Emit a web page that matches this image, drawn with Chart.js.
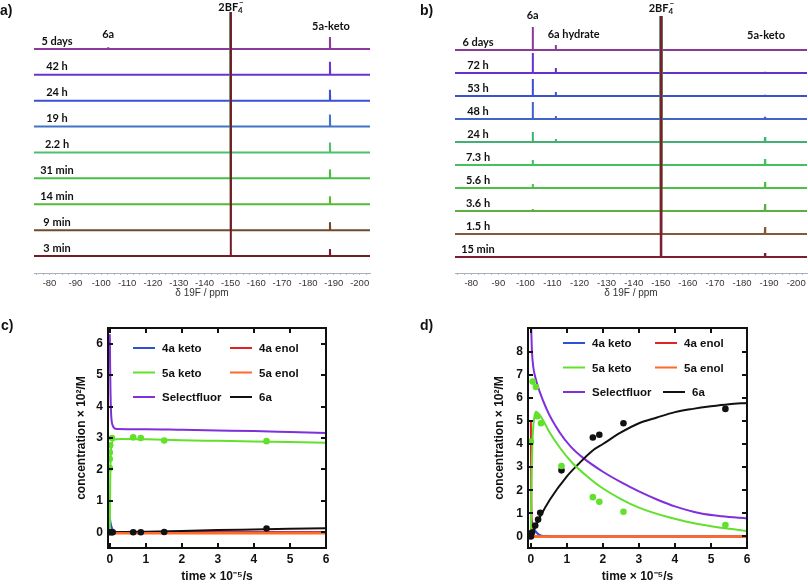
<!DOCTYPE html>
<html>
<head>
<meta charset="utf-8">
<script src="https://cdn.jsdelivr.net/npm/chart.js@4.4.0/dist/chart.umd.min.js"></script>
<style>
  html, body { margin: 0; padding: 0; background: #fff; }
  #wrap { position: relative; width: 808px; height: 584px; overflow: hidden; }
  canvas { position: absolute; }
  .tag { position: absolute; font: bold 14px "Liberation Sans", Arial, sans-serif; color: #111; }
</style>
</head>
<body>
<div id="wrap">
  <canvas id="chartA" width="404" height="300" style="left:0;top:0"></canvas>
  <canvas id="chartB" width="404" height="300" style="left:404px;top:0"></canvas>
  <canvas id="chartC" width="404" height="284" style="left:0;top:300px"></canvas>
  <canvas id="chartD" width="404" height="284" style="left:404px;top:300px"></canvas>
  <div class="tag" style="left:0;top:2px">a)</div>
  <div class="tag" style="left:420px;top:2px">b)</div>
  <div class="tag" style="left:1px;top:317px">c)</div>
  <div class="tag" style="left:420px;top:317px">d)</div>
</div>
<script>
// ---- panel a: 19F NMR, spectra listed bottom to top ----
const aTimes = ['3 min', '9 min', '14 min', '31 min', '2.2 h', '19 h', '24 h', '42 h', '5 days'];
const aColors = ['#741a28', '#6e4b2b', '#55bb35', '#44c044', '#4dbf6e', '#3f74c6', '#3b50d2', '#6636d0', '#8c3a9c'];
const aKeto = [7, 8, 8, 9, 10, 12, 11, 13, 12];
const aSixA = [0, 0, 0, 0, 0, 0, 0, 0, 1.5];

// ---- panel b ----
const bTimes = ['15 min', '1.5 h', '3.6 h', '5.6 h', '7.3 h', '24 h', '48 h', '53 h', '72 h', '6 days'];
const bColors = ['#7a1e32', '#86583a', '#5cb040', '#4cbf48', '#44c060', '#42b070', '#4263c8', '#3a50d0', '#6430d0', '#8a3a9a'];
const bKeto = [4, 7, 7, 6, 6, 5, 2, 1, 1, 0];
const bSixA = [0, 0, 2, 4, 5, 10, 17, 17, 20, 23];
const bHydrate = [0, 0, 0, 0, 1, 3, 3, 4, 5, 5];

// chemical shifts (ppm) and axis labels
const shiftSixA = -102.7;
const shiftHydrate = -111.2;
const shiftBF4 = -150.1;
const shiftKeto = -188.5;
const bf4Height = 600; // counter-ion peak, off scale
const ppmTicks = [-80, -90, -100, -110, -120, -130, -140, -150, -160, -170, -180, -190, -200];

// ---- panel c: concentration x 10^2 / M vs time x 10^-5 / s ----
const c4aKeto = [[0, 0.45], [0.03, 0.25], [0.08, 0.08], [0.15, 0.02], [0.3, 0], [6, 0]];
const c4aEnol = [[0, 0], [6, 0]];
const c5aKeto = [[0, 0], [0.01, 1.5], [0.02, 2.3], [0.04, 2.7], [0.07, 2.88], [0.12, 2.95], [0.3, 2.97], [1, 2.96], [2, 2.93], [3, 2.91], [4, 2.89], [5, 2.87], [6, 2.85]];
const c5aEnol = [[0, 0], [0.1, -0.03], [6, -0.03]];
const cSelectfluor = [[0, 6.3], [0.01, 5.2], [0.02, 4.4], [0.035, 3.8], [0.05, 3.55], [0.08, 3.4], [0.12, 3.32], [0.2, 3.29], [1, 3.28], [2, 3.26], [3, 3.24], [4, 3.22], [5, 3.19], [6, 3.16]];
const c6a = [[0, 0], [1, 0.02], [2, 0.04], [3, 0.07], [4, 0.09], [5, 0.11], [6, 0.13]];
const c5aKetoObs = [[0, 2.04], [0, 2.33], [0, 2.54], [0.01, 2.77], [0.06, 3.0], [0.65, 3.02], [0.86, 3.0], [1.51, 2.92], [4.35, 2.9]];
const c6aObs = [[0, 0], [0.05, 0], [0.08, 0], [0.65, 0], [0.86, 0], [1.51, 0.01], [4.35, 0.12]];
const cXTicks = [0, 1, 2, 3, 4, 5, 6];
const cYTicks = [0, 1, 2, 3, 4, 5, 6];

// ---- panel d ----
const d4aKeto = [[0, 0.8], [0.05, 0.5], [0.1, 0.3], [0.2, 0.1], [0.35, 0.02], [0.6, 0], [6, 0]];
const d4aEnol = [[0, 5.0], [0.01, 2.0], [0.03, 0.3], [0.06, 0], [6, 0]];
const d5aKeto = [[0, 0], [0.02, 2.5], [0.05, 4.3], [0.09, 5.1], [0.14, 5.4], [0.22, 5.3], [0.35, 5.0], [0.5, 4.55], [0.8, 3.85], [1.14, 3.2], [1.5, 2.68], [1.93, 2.15], [2.5, 1.62], [3, 1.25], [3.78, 0.85], [4.5, 0.58], [5, 0.44], [5.5, 0.33], [6, 0.24]];
const d5aEnol = [[0, 0], [6, 0]];
const dSelectfluor = [[0, 9.5], [0.03, 8.0], [0.07, 7.3], [0.12, 6.9], [0.44, 5.5], [0.8, 4.5], [1.1, 3.9], [1.45, 3.4], [2, 2.8], [2.5, 2.35], [3, 1.95], [3.5, 1.6], [4, 1.3], [4.7, 1.0], [5.3, 0.87], [6, 0.78]];
const d6a = [[0, 0], [0.26, 0.86], [0.53, 1.6], [1, 2.6], [1.3, 3.1], [1.7, 3.7], [2, 4.0], [2.5, 4.5], [3, 4.9], [3.5, 5.15], [4, 5.38], [4.5, 5.52], [5, 5.63], [5.5, 5.72], [6, 5.78]];
const d5aKetoObs = [[0, 4.1], [0.05, 6.7], [0.14, 6.47], [0.18, 5.2], [0.28, 4.9], [0.85, 3.05], [1.72, 1.7], [1.9, 1.5], [2.57, 1.07], [5.4, 0.49]];
const d6aObs = [[0, 0], [0.03, 0.17], [0.12, 0.47], [0.2, 0.73], [0.26, 1.02], [0.85, 2.86], [1.72, 4.28], [1.9, 4.4], [2.57, 4.9], [5.4, 5.52]];
const dXTicks = [0, 1, 2, 3, 4, 5, 6];
const dYTicks = [0, 1, 2, 3, 4, 5, 6, 7, 8];

const seriesNames = ['4a keto', '4a enol', '5a keto', '5a enol', 'Selectfluor', '6a'];
const seriesColors = ['#2f4fd8', '#e02424', '#62e02c', '#ff6a2a', '#7f2fdc', '#111111'];

Chart.defaults.font.family = '"Liberation Sans", Arial, sans-serif';
Chart.defaults.color = '#111';

const ppmLeft = -74, ppmRight = -204;

function spectrum(offset, peaks) {
  const pts = [{x: ppmLeft, y: offset}];
  peaks.filter(p => p[1] > 0).sort((a, b) => b[0] - a[0]).forEach(([ppm, h]) => {
    pts.push({x: ppm + 0.1, y: offset}, {x: ppm, y: offset + h}, {x: ppm - 0.1, y: offset});
  });
  pts.push({x: ppmRight, y: offset});
  return pts;
}

function drawBF4(ctx, x, y) {
  ctx.font = 'bold 11px Lato, sans-serif';
  const w = ctx.measureText('2BF').width;
  ctx.textAlign = 'left';
  const x0 = x - (w + 5) / 2;
  ctx.fillText('2BF', x0, y);
  ctx.font = 'bold 8px Lato, sans-serif';
  ctx.fillText('4', x0 + w, y + 3);
  ctx.fillText('\u2212', x0 + w + 1, y - 5);
  ctx.textAlign = 'center';
}

const spectraLabels = {
  id: 'spectraLabels',
  afterDatasetsDraw(chart, args, opts) {
    const {ctx, chartArea, scales: {x, y}} = chart;
    ctx.save();
    ctx.fillStyle = '#111';
    ctx.textAlign = 'center';
    ctx.textBaseline = 'middle';
    ctx.font = 'bold 11px Lato, sans-serif';
    opts.times.forEach((t, i) => {
      ctx.fillText(t, chartArea.left + 23, y.getPixelForValue(i * opts.step) - 8);
    });
    const topBase = y.getPixelForValue((opts.times.length - 1) * opts.step);
    opts.peaks.forEach(p => {
      const px = x.getPixelForValue(p.ppm) + (p.dx || 0);
      const py = topBase - p.dy;
      if (p.text === 'BF4') {
        drawBF4(ctx, px, py);
      } else {
        ctx.font = 'bold 11px Lato, sans-serif';
        ctx.fillText(p.text, px, py);
      }
    });
    ctx.restore();
  }
};

function spectraChart(id, times, colors, peakSets, step, yMin, yMax, pad, peakLabels) {
  const datasets = times.map((t, i) => ({
    label: t,
    data: spectrum(i * step, peakSets[i]),
    borderColor: colors[i],
    borderWidth: 2,
    borderJoinStyle: 'bevel',
    pointRadius: 0,
    tension: 0
  }));
  new Chart(document.getElementById(id), {
    type: 'line',
    data: {datasets},
    options: {
      responsive: false,
      animation: false,
      layout: {padding: pad},
      plugins: {
        legend: {display: false},
        tooltip: {enabled: false},
        spectraLabels: {times, step, peaks: peakLabels}
      },
      scales: {
        x: {
          type: 'linear',
          min: ppmRight,
          max: ppmLeft,
          reverse: true,
          afterFit: s => { s.height = 26; },
          afterBuildTicks: s => {
            const ticks = [];
            for (let v = -202.5; v <= -75; v += 2.5) ticks.push({value: v});
            s.ticks = ticks;
          },
          border: {color: '#a8b2bc', width: 1},
          grid: {drawOnChartArea: false, tickLength: 2, color: '#b4bcc4'},
          ticks: {
            autoSkip: false,
            maxRotation: 0,
            padding: 3,
            color: '#333',
            font: {size: 9.5},
            callback: v => (ppmTicks.includes(v) ? String(v) : '')
          },
          title: {display: true, text: 'δ 19F / ppm', padding: 0, color: '#333', font: {size: 10}}
        },
        y: {display: false, min: yMin, max: yMax}
      }
    },
    plugins: [spectraLabels]
  });
}

spectraChart('chartA', aTimes, aColors,
  aTimes.map((t, i) => [[shiftKeto, aKeto[i]], [shiftSixA, aSixA[i]], [shiftBF4, bf4Height]]),
  25.9, -17, 8 * 25.9 + 37,
  {left: 34, right: 34, top: 12, bottom: 1},
  [{text: 'BF4', ppm: shiftBF4, dy: 42}, {text: '5a-keto', ppm: shiftKeto, dy: 23, dx: 1}, {text: '6a', ppm: shiftSixA, dy: 15}]);

spectraChart('chartB', bTimes, bColors,
  bTimes.map((t, i) => [[shiftKeto, bKeto[i]], [shiftSixA, bSixA[i]], [shiftHydrate, bHydrate[i]], [shiftBF4, bf4Height]]),
  23, -16, 9 * 23 + 34,
  {left: 51, right: 1, top: 16, bottom: 1},
  [{text: 'BF4', ppm: shiftBF4, dy: 42}, {text: '5a-keto', ppm: shiftKeto, dy: 15, dx: 1}, {text: '6a', ppm: shiftSixA, dy: 35},
   {text: '6a hydrate', ppm: shiftHydrate, dy: 16, dx: 18}]);

// ---- kinetics panels ----
const frame = {
  id: 'frame',
  afterDraw(chart) {
    const {ctx, chartArea: a, scales: {x, y}} = chart;
    ctx.save();
    ctx.strokeStyle = '#111';
    ctx.lineWidth = 2;
    ctx.strokeRect(a.left, a.top, a.right - a.left, a.bottom - a.top);
    ctx.beginPath();
    x.ticks.forEach(t => {
      const px = Math.round(x.getPixelForValue(t.value));
      ctx.moveTo(px, a.bottom); ctx.lineTo(px, a.bottom - 5);
      ctx.moveTo(px, a.top); ctx.lineTo(px, a.top + 5);
    });
    y.ticks.forEach(t => {
      const py = Math.round(y.getPixelForValue(t.value));
      ctx.moveTo(a.left, py); ctx.lineTo(a.left + 5, py);
      ctx.moveTo(a.right, py); ctx.lineTo(a.right - 5, py);
    });
    ctx.stroke();
    ctx.restore();
  }
};

const seriesLegend = {
  id: 'seriesLegend',
  afterDraw(chart, args, o) {
    const {ctx, chartArea: a} = chart;
    const items = chart.data.datasets.filter(d => d.inLegend);
    ctx.save();
    ctx.font = 'bold 11.5px "Liberation Sans", Arial, sans-serif';
    ctx.textBaseline = 'middle';
    ctx.textAlign = 'left';
    items.forEach((d, i) => {
      const col = i % 2, row = Math.floor(i / 2);
      const x = a.left + o.x + col * o.colGap + (i === items.length - 1 ? o.lastShift : 0);
      const y = a.top + o.y + row * o.rowGap;
      ctx.strokeStyle = d.borderColor;
      ctx.lineWidth = 2;
      ctx.beginPath();
      ctx.moveTo(x, y); ctx.lineTo(x + o.sample, y);
      ctx.stroke();
      ctx.fillStyle = '#111';
      ctx.fillText(d.label, x + o.sample + 7, y + 1);
    });
    ctx.restore();
  }
};

const toXY = arr => arr.map(([x, y]) => ({x, y}));

function kineticsChart(id, lines, obs, xTicks, yTicks, xMin, yMin, yMax, pad, yWidth, legendPos) {
  const lineSets = lines.map((pts, i) => ({
    label: seriesNames[i],
    data: toXY(pts),
    borderColor: seriesColors[i],
    borderWidth: i === 3 ? 2.5 : 2,
    pointRadius: 0,
    cubicInterpolationMode: 'monotone',
    inLegend: true,
    order: [5, 4, 2, 1, 3, 2][i]
  }));
  const obsSets = obs.map(o => ({
    label: o.label,
    data: toXY(o.pts),
    showLine: false,
    pointRadius: 3.3,
    pointBorderWidth: 0,
    backgroundColor: o.color,
    borderColor: o.color,
    order: 0
  }));
  const tickFont = {size: 12, weight: 'bold'};
  new Chart(document.getElementById(id), {
    type: 'line',
    data: {datasets: [...lineSets, ...obsSets]},
    options: {
      responsive: false,
      animation: false,
      layout: {padding: pad},
      plugins: {
        legend: {display: false},
        tooltip: {enabled: false},
        seriesLegend: legendPos
      },
      scales: {
        x: {
          type: 'linear',
          min: xMin,
          max: 6,
          afterFit: s => { s.height = 36; },
          afterBuildTicks: s => { s.ticks = xTicks.map(v => ({value: v})); },
          grid: {display: false, drawTicks: false},
          border: {display: false},
          ticks: {maxRotation: 0, padding: 4, color: '#111', font: tickFont, callback: v => String(v)},
          title: {display: true, text: 'time × 10⁻⁵/s', padding: 0, color: '#111', font: tickFont}
        },
        y: {
          type: 'linear',
          min: yMin,
          max: yMax,
          afterFit: s => { s.width = yWidth; },
          afterBuildTicks: s => { s.ticks = yTicks.map(v => ({value: v})); },
          grid: {display: false, drawTicks: false},
          border: {display: false},
          ticks: {padding: 5, color: '#111', font: tickFont, callback: v => String(v)},
          title: {display: true, text: 'concentration × 10²/M', padding: 0, color: '#111', font: tickFont}
        }
      }
    },
    plugins: [frame, seriesLegend]
  });
}

kineticsChart('chartC',
  [c4aKeto, c4aEnol, c5aKeto, c5aEnol, cSelectfluor, c6a],
  [{label: '5a keto obs', pts: c5aKetoObs, color: '#62e02c'}, {label: '6a obs', pts: c6aObs, color: '#111'}],
  cXTicks, cYTicks, -0.05, -0.5, 6.5,
  {left: 74, top: 28, right: 78, bottom: 0}, 34,
  {x: 25, y: 20, colGap: 97, rowGap: 24.5, sample: 22, lastShift: 0});

kineticsChart('chartD',
  [d4aKeto, d4aEnol, d5aKeto, d5aEnol, dSelectfluor, d6a],
  [{label: '5a keto obs', pts: d5aKetoObs, color: '#62e02c'}, {label: '6a obs', pts: d6aObs, color: '#111'}],
  dXTicks, dYTicks, -0.08, -0.5, 9.02,
  {left: 88, top: 28, right: 61, bottom: 0}, 36,
  {x: 35, y: 15, colGap: 92, rowGap: 24.5, sample: 22, lastShift: 8});
</script>
</body>
</html>
